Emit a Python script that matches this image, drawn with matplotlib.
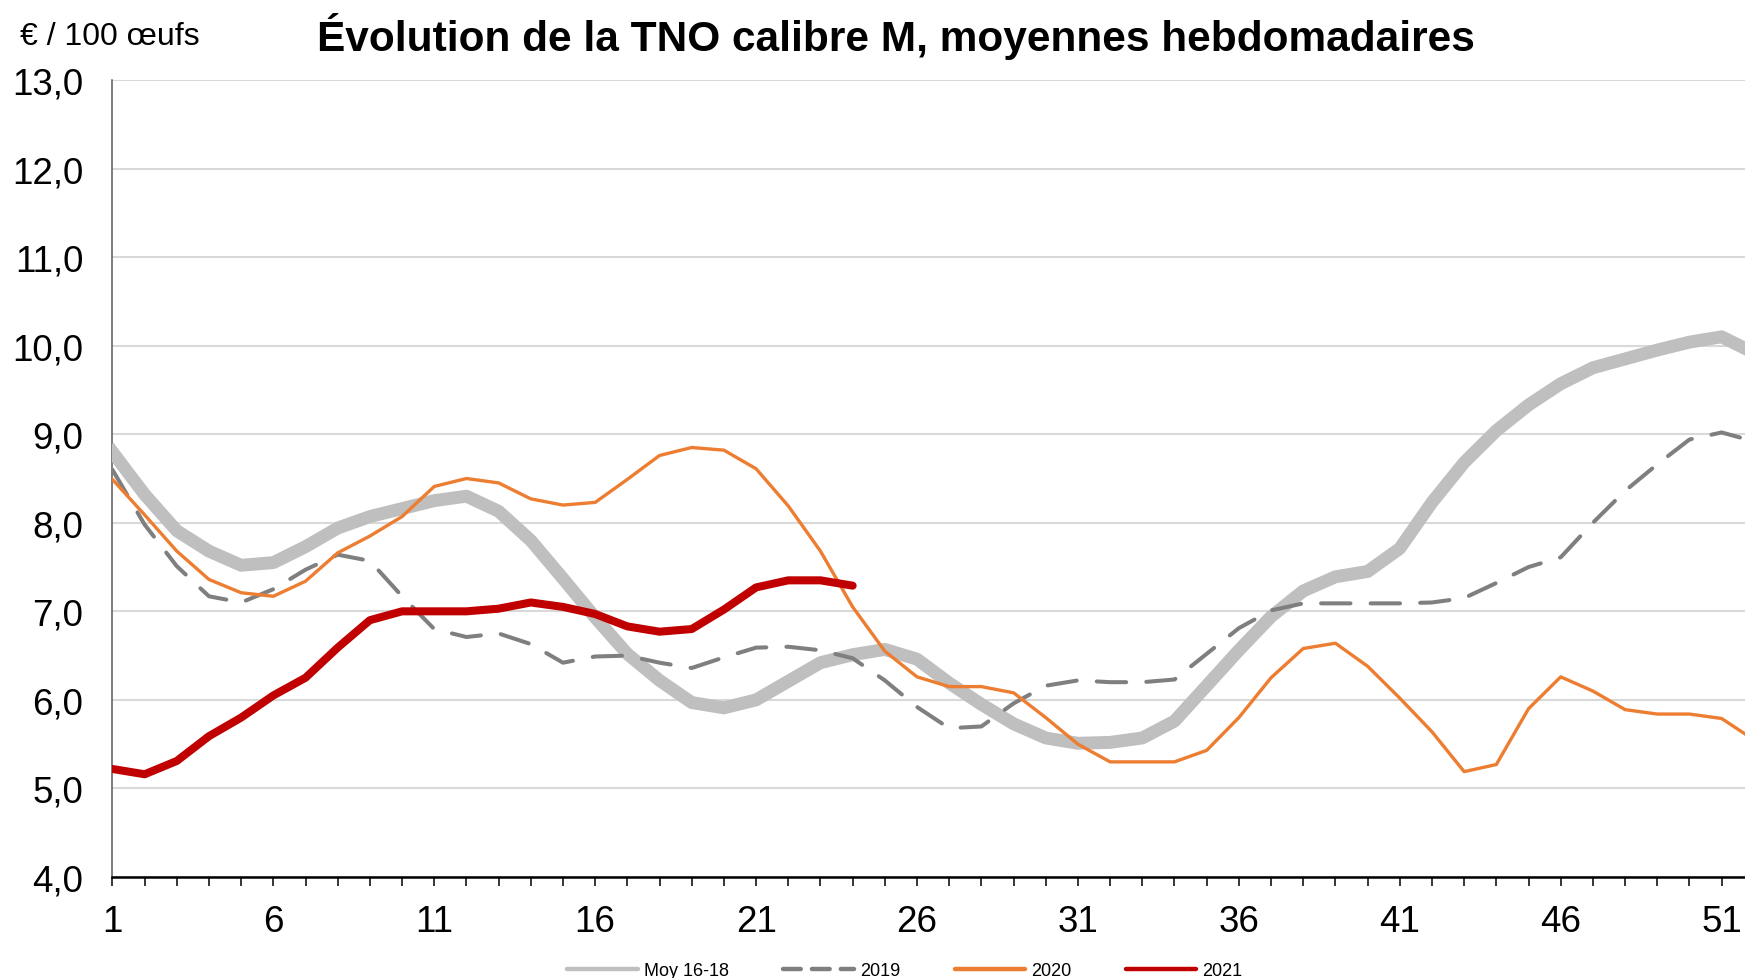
import matplotlib
matplotlib.use("Agg")
import matplotlib.pyplot as plt
from matplotlib.lines import Line2D
from matplotlib.ticker import FuncFormatter, MultipleLocator, FixedLocator

plt.rcParams['font.family'] = ['Liberation Sans', 'DejaVu Sans']

weeks = list(range(1, 53))
moy_16_18 = [8.80, 8.32, 7.91, 7.68, 7.52, 7.55, 7.73, 7.94, 8.07, 8.16, 8.25, 8.30, 8.13, 7.80,
             7.37, 6.93, 6.52, 6.22, 5.97, 5.91, 6.00, 6.21, 6.42, 6.51, 6.57, 6.46, 6.19, 5.95,
             5.73, 5.57, 5.51, 5.52, 5.57, 5.76, 6.16, 6.56, 6.94, 7.23, 7.39, 7.45, 7.71, 8.23,
             8.68, 9.04, 9.33, 9.57, 9.75, 9.85, 9.95, 10.04, 10.10, 9.92]
y2019 = [8.60, 7.98, 7.51, 7.17, 7.10, 7.25, 7.47, 7.64, 7.57, 7.17, 6.80, 6.71, 6.75, 6.63,
         6.42, 6.49, 6.50, 6.42, 6.36, 6.48, 6.59, 6.60, 6.56, 6.47, 6.22, 5.92, 5.68, 5.70,
         5.96, 6.16, 6.22, 6.20, 6.20, 6.23, 6.52, 6.81, 7.01, 7.09, 7.09, 7.09, 7.09, 7.10,
         7.15, 7.32, 7.50, 7.61, 8.00, 8.36, 8.66, 8.94, 9.02, 8.92]
y2020 = [8.49, 8.09, 7.68, 7.36, 7.21, 7.17, 7.34, 7.66, 7.85, 8.07, 8.41, 8.50, 8.45, 8.27,
         8.20, 8.23, 8.49, 8.76, 8.85, 8.82, 8.61, 8.19, 7.68, 7.05, 6.55, 6.26, 6.15, 6.15,
         6.08, 5.80, 5.50, 5.30, 5.30, 5.30, 5.43, 5.80, 6.25, 6.58, 6.64, 6.38, 6.02, 5.64,
         5.19, 5.27, 5.90, 6.26, 6.10, 5.89, 5.84, 5.84, 5.79, 5.55]
y2021 = [5.22, 5.16, 5.31, 5.59, 5.80, 6.05, 6.25, 6.59, 6.90, 7.00, 7.00, 7.00, 7.03, 7.10,
         7.05, 6.97, 6.83, 6.77, 6.80, 7.02, 7.27, 7.35, 7.35, 7.29]
series_labels = ["Moy 16-18", "2019", "2020", "2021"]
xtick_labels = [1, 6, 11, 16, 21, 26, 31, 36, 41, 46, 51]

W, H = 1745, 979
fig = plt.figure(figsize=(W / 100, H / 100), dpi=100)
left, right, top, bottom = 112.4, 1753.8, 81, 878
ax = fig.add_axes([left / W, 1 - bottom / H, (right - left) / W, (bottom - top) / H])

c_moy, c_19, c_20, c_21 = '#BFBFBF', '#7F7F7F', '#ED7D31', '#C00000'

ax.plot(weeks, moy_16_18, color=c_moy, lw=9.3, solid_joinstyle='round', zorder=3)
ax.plot(weeks, y2019, color=c_19, lw=2.9, dashes=(7.3, 5.0), dash_capstyle='round', zorder=4)
ax.plot(weeks, y2020, color=c_20, lw=2.4, zorder=5)
ax.plot(weeks[:len(y2021)], y2021, color=c_21, lw=5.8, solid_capstyle='round', zorder=6)

ax.set_xlim(1, 52)
ax.set_ylim(4, 13)
ax.yaxis.set_major_locator(MultipleLocator(1))
ax.yaxis.set_major_formatter(FuncFormatter(lambda v, p: f"{v:.1f}".replace('.', ',')))
ax.xaxis.set_major_locator(FixedLocator(xtick_labels))
ax.xaxis.set_minor_locator(MultipleLocator(1))
ax.grid(axis='y', color='#D9D9D9', lw=1.5, zorder=0)
ax.set_axisbelow(True)

for s in ['top', 'right']:
    ax.spines[s].set_visible(False)
ax.spines['left'].set_color('#595959')
ax.spines['left'].set_linewidth(1.1)
ax.spines['bottom'].set_color('black')
ax.spines['bottom'].set_linewidth(1.8)
ax.spines['bottom'].set_zorder(7)

ax.tick_params(axis='y', length=0, pad=21, labelsize=26.5)
ax.tick_params(axis='x', which='both', direction='out', length=6.5, width=1.1, color='black')
ax.tick_params(axis='x', which='major', pad=13, labelsize=26.5)

fig.text(896 / W, 1 - 36 / H, "Évolution de la TNO calibre M, moyennes hebdomadaires",
         ha='center', va='center', fontsize=30.5, fontweight='bold')
fig.text(20 / W, 1 - 37 / H, "€ / 100 œufs", ha='left', va='center', fontsize=23)

handles = [Line2D([], [], color=c_moy, lw=3.2, solid_capstyle='round'),
           Line2D([], [], color=c_19, lw=3.2, dashes=(4, 2.5), dash_capstyle='round'),
           Line2D([], [], color=c_20, lw=3.2, solid_capstyle='round'),
           Line2D([], [], color=c_21, lw=3.2, solid_capstyle='round')]
fig.legend(handles, series_labels, loc='center', bbox_to_anchor=(905 / W, 1 - 972 / H),
           ncol=4, frameon=False, handlelength=3.9, handletextpad=0.35,
           columnspacing=3.0, borderpad=0,
           prop={'family': ['Liberation Sans Narrow', 'Liberation Sans'], 'size': 13})

fig.savefig("out.png", dpi=100)
